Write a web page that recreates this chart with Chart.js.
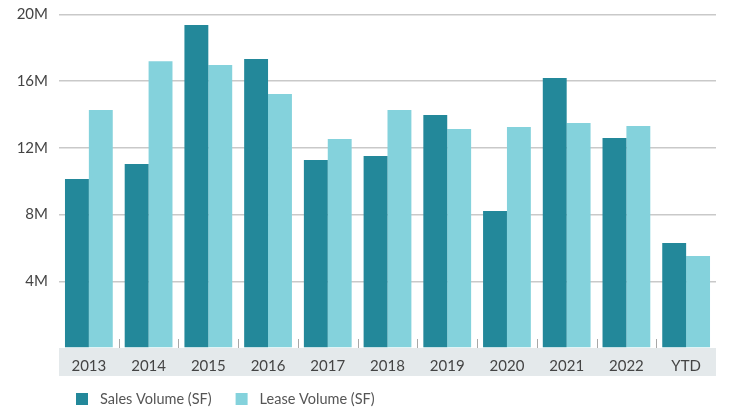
<!DOCTYPE html>
<html>
<head>
<meta charset="utf-8">
<script src="https://cdn.jsdelivr.net/npm/chart.js@4/dist/chart.umd.min.js"></script>
<style>
  html, body { margin: 0; padding: 0; background: #fff; }
  #wrap { width: 730px; height: 410px; }
</style>
</head>
<body>
<div id="wrap"><canvas id="volumeChart" width="730" height="410"></canvas></div>
<script>
// values, in millions of SF
var years = ['2013', '2014', '2015', '2016', '2017', '2018', '2019', '2020', '2021', '2022', 'YTD'];
var salesVolume = [10.13, 11.03, 19.37, 17.33, 11.27, 11.51, 13.97, 8.22, 16.19, 12.59, 6.3];
var leaseVolume = [14.27, 17.2, 16.97, 15.23, 12.53, 14.27, 13.13, 13.25, 13.49, 13.31, 5.52];
var yTicks = [4, 8, 12, 16, 20];

var salesColor = '#23889a';
var leaseColor = '#84d2dc';
var fontName = 'Lato, "Open Sans", sans-serif';

// grey band behind the year labels + little tick marks between years
var bandPlugin = {
    id: 'band',
    beforeDraw: function (chart) {
        var ctx = chart.ctx;
        var area = chart.chartArea;
        var x = chart.scales.x;
        ctx.save();
        ctx.fillStyle = '#e4e9eb';
        ctx.fillRect(area.left, area.bottom, area.right - area.left, x.bottom - area.bottom);
        ctx.restore();
    },
    afterDraw: function (chart) {
        var ctx = chart.ctx;
        var x = chart.scales.x;
        var bottom = chart.chartArea.bottom;
        ctx.save();
        ctx.strokeStyle = '#a8a8a8';
        ctx.lineWidth = 1;
        for (var i = 1; i < years.length; i++) {
            var px = Math.round((x.getPixelForTick(i - 1) + x.getPixelForTick(i)) / 2) + 0.5;
            ctx.beginPath();
            ctx.moveTo(px, bottom - 9);
            ctx.lineTo(px, bottom);
            ctx.stroke();
        }
        ctx.restore();
    }
};

// legend drawn under the band, left aligned
var legendPlugin = {
    id: 'bottomLegend',
    afterDraw: function (chart) {
        var ctx = chart.ctx;
        var x = chart.chartArea.left + 17;
        var y = chart.scales.x.bottom + 23;
        ctx.save();
        ctx.font = '14.5px ' + fontName;
        ctx.textBaseline = 'middle';
        ctx.textAlign = 'left';
        chart.data.datasets.forEach(function (ds) {
            ctx.fillStyle = ds.backgroundColor;
            ctx.fillRect(x, y - 6, 12, 12);
            ctx.fillStyle = '#555';
            ctx.fillText(ds.label, x + 24, y + 0.5);
            x += 24 + ctx.measureText(ds.label).width + 24;
        });
        ctx.restore();
    }
};

var ctx = document.getElementById('volumeChart').getContext('2d');
var volumeChart = new Chart(ctx, {
    type: 'bar',
    data: {
        labels: years,
        datasets: [
            { label: 'Sales Volume (SF)', data: salesVolume, backgroundColor: salesColor },
            { label: 'Lease Volume (SF)', data: leaseVolume, backgroundColor: leaseColor }
        ]
    },
    options: {
        responsive: false,
        animation: false,
        layout: { padding: { top: 14.5, right: 14, bottom: 34, left: 0 } },
        datasets: { bar: { categoryPercentage: 0.8, barPercentage: 1 } },
        plugins: {
            legend: { display: false },
            tooltip: { enabled: false }
        },
        scales: {
            x: {
                grid: { display: false },
                border: { display: false },
                ticks: { color: '#444', font: { family: fontName, size: 15 }, padding: 1 },
                afterFit: function (scale) { scale.height = 28; }
            },
            y: {
                min: 0,
                max: 20,
                afterBuildTicks: function (scale) {
                    scale.ticks = [0].concat(yTicks).map(function (v) { return { value: v }; });
                },
                afterFit: function (scale) {
                    scale.width = 59;
                    scale.paddingTop = 0;
                    scale.paddingBottom = 0;
                },
                border: { display: false },
                grid: {
                    drawTicks: false,
                    lineWidth: 1.5,
                    color: function (c) { return c.tick && c.tick.value === 0 ? 'rgba(0,0,0,0)' : '#c9c9c9'; }
                },
                ticks: {
                    color: '#444',
                    padding: 11,
                    font: { family: fontName, size: 15 },
                    callback: function (v) { return v === 0 ? '' : v + 'M'; }
                }
            }
        }
    },
    plugins: [bandPlugin, legendPlugin]
});
</script>
</body>
</html>
